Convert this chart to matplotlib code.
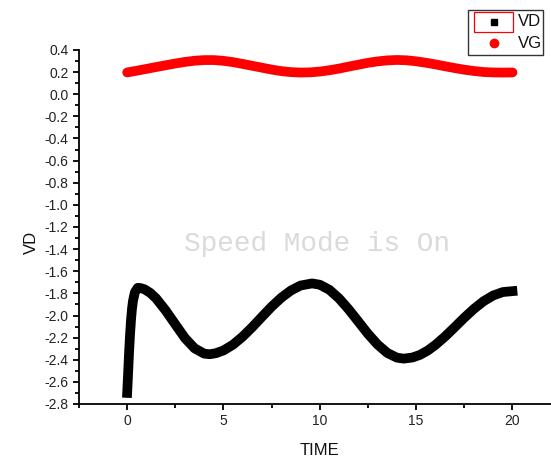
import matplotlib
matplotlib.use("Agg")
import matplotlib.pyplot as plt
from matplotlib.patches import Rectangle
from matplotlib.lines import Line2D
from matplotlib.ticker import MultipleLocator

plt.rcParams['font.family'] = ['Liberation Sans', 'DejaVu Sans']
plt.rcParams['axes.unicode_minus'] = False

# Drain voltage response
time_vd = [0, 0.05, 0.1, 0.15, 0.2, 0.25, 0.3, 0.4, 0.55, 0.7, 0.9, 1.2, 1.5,
           2.0, 2.5, 3.0, 3.5, 4.0, 4.3, 4.6, 5.0, 5.5, 6.0, 6.5, 7.0, 7.5,
           8.0, 8.5, 9.0, 9.6, 10.0, 10.5, 11.0, 11.5, 12.0, 12.5, 13.0, 13.5,
           14.0, 14.35, 14.8, 15.2, 15.6, 16.0, 16.5, 17.0, 17.5, 18.0, 18.5,
           19.0, 19.5, 20.0]
vd = [-2.70, -2.52, -2.33, -2.17, -2.04, -1.94, -1.87, -1.79, -1.75, -1.752,
      -1.763, -1.796, -1.845, -1.955, -2.08, -2.204, -2.297, -2.345, -2.35,
      -2.341, -2.316, -2.263, -2.19, -2.104, -2.011, -1.92, -1.839, -1.774,
      -1.729, -1.71, -1.722, -1.768, -1.846, -1.945, -2.055, -2.166, -2.263,
      -2.338, -2.381, -2.39, -2.38, -2.356, -2.317, -2.266, -2.19, -2.106,
      -2.02, -1.94, -1.871, -1.819, -1.788, -1.78]

# Gate voltage drive
time_vg = [0, 0.5, 1, 1.5, 2, 2.5, 3, 3.5, 4, 4.5, 5, 5.5, 6, 6.5, 7, 7.5, 8,
           8.5, 9, 9.5, 10, 10.5, 11, 11.5, 12, 12.5, 13, 13.5, 14, 14.5, 15,
           15.5, 16, 16.5, 17, 17.5, 18, 18.5, 19, 19.5, 20]
vg = [0.197, 0.213, 0.229, 0.246, 0.262, 0.278, 0.292, 0.303, 0.309, 0.309,
      0.302, 0.29, 0.274, 0.257, 0.24, 0.223, 0.209, 0.2, 0.196, 0.198, 0.205,
      0.217, 0.232, 0.25, 0.267, 0.284, 0.297, 0.306, 0.31, 0.307, 0.298,
      0.285, 0.27, 0.253, 0.237, 0.222, 0.21, 0.201, 0.197, 0.196, 0.197]

x_ticks = [0, 5, 10, 15, 20]
y_ticks = [0.4, 0.2, 0.0, -0.2, -0.4, -0.6, -0.8, -1.0, -1.2, -1.4, -1.6,
           -1.8, -2.0, -2.2, -2.4, -2.6, -2.8]

W, H = 551, 458
fig = plt.figure(figsize=(W / 100, H / 100), dpi=100)
ax = fig.add_axes([79 / W, 1 - 404 / H, (W - 79) / W, (404 - 50) / H])

ax.plot(time_vd, vd, color='black', lw=7.0, solid_capstyle='projecting',
        solid_joinstyle='round', zorder=3)
ax.plot(time_vg, vg, color='red', lw=7.0, solid_capstyle='round',
        solid_joinstyle='round', zorder=3)

ax.set_xlim(-2.5, 22.0)
ax.set_ylim(-2.8, 0.4)
ax.set_xticks(x_ticks)
ax.set_xticklabels([str(t) for t in x_ticks])
ax.set_yticks(y_ticks)
ax.set_yticklabels([f"{v:.1f}" for v in y_ticks])
ax.xaxis.set_minor_locator(MultipleLocator(2.5))
ax.yaxis.set_minor_locator(MultipleLocator(0.1))

for side in ('top', 'right'):
    ax.spines[side].set_visible(False)
for side in ('left', 'bottom'):
    ax.spines[side].set_linewidth(1.3)
    ax.spines[side].set_color('black')

ax.tick_params(which='major', direction='out', length=4, width=1.3,
               labelsize=10, colors='black', labelcolor='#222222', pad=3.5)
ax.tick_params(which='minor', direction='out', length=3, width=1.3,
               colors='black')

ax.set_xlabel('TIME', fontsize=12, color='#111111')
ax.xaxis.set_label_coords(0.5 + 5 / (W - 79), -0.11)
ax.set_ylabel('VD', fontsize=12, color='#111111')
ax.yaxis.set_label_coords(-0.084, 0.457)

ax.text(0.505, 0.453, 'Speed Mode is On', transform=ax.transAxes,
        family='Liberation Mono', fontsize=20, color='#dadada',
        ha='center', va='center', zorder=1)

# Legend box
def fx(px):
    return px / W

def fy(py):
    return 1 - py / H

fig.add_artist(Rectangle((fx(468), fy(55)), fx(543) - fx(468), fy(10) - fy(55),
                         transform=fig.transFigure, facecolor='white',
                         edgecolor='#333333', lw=1.0, zorder=5))
fig.add_artist(Rectangle((fx(474), fy(32)), fx(513) - fx(474), fy(12) - fy(32),
                         transform=fig.transFigure, facecolor='none',
                         edgecolor='red', lw=0.9, zorder=6))
fig.add_artist(Line2D([fx(494)], [fy(22)], marker='s', markersize=5,
                      color='black', transform=fig.transFigure, zorder=6))
fig.add_artist(Line2D([fx(494)], [fy(43)], marker='o', markersize=6,
                      color='red', transform=fig.transFigure, zorder=6))
fig.text(fx(518), fy(22), 'VD', fontsize=12, va='center', ha='left',
         color='#111111', zorder=7)
fig.text(fx(518), fy(43), 'VG', fontsize=12, va='center', ha='left',
         color='#111111', zorder=7)

fig.savefig('out.png', dpi=100)
